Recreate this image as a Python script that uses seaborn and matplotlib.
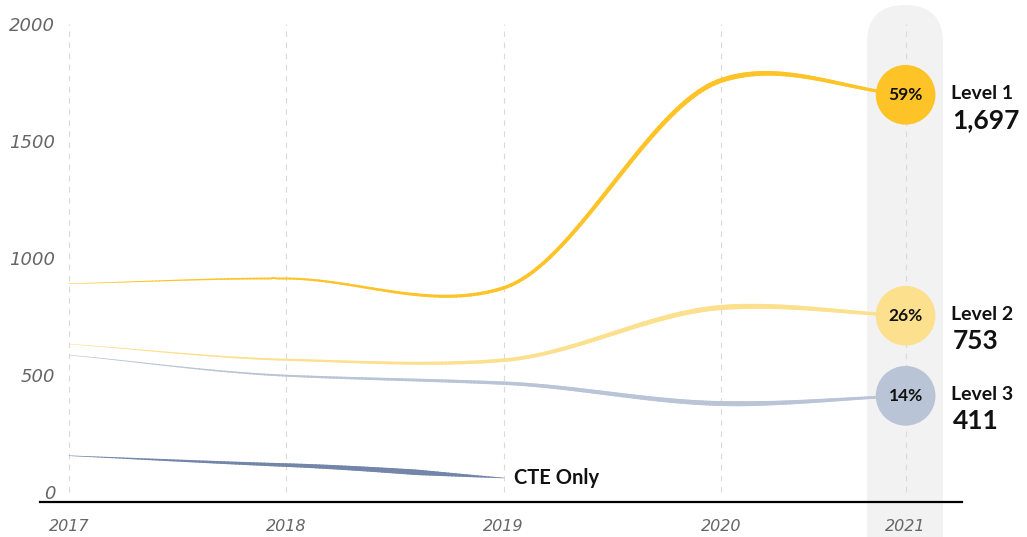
import numpy as np
import pandas as pd
import matplotlib
matplotlib.use("Agg")
import matplotlib.pyplot as plt
import seaborn as sns
from matplotlib.collections import LineCollection
from matplotlib.patches import FancyBboxPatch
from matplotlib.transforms import IdentityTransform

# data
years = ["2017", "2018", "2019", "2020", "2021"]
level1 = [890, 912, 872, 1758, 1697]
level2 = [632, 565, 563, 788, 753]
level3 = [585, 497, 465, 378, 411]
cte_only = [155, 115, 60]
level_names = ["Level 1", "Level 2", "Level 3"]
level_totals = ["1,697", "753", "411"]
level_shares = ["59%", "26%", "14%"]

# layout: 2021 sits a bit closer to 2020 in the original
x_pos = np.array([0, 1, 2, 3, 3.85])

c_l1 = "#FEC326"
c_l2 = "#FCE08E"
c_l3 = "#B9C4D6"
c_cte = "#7385A9"


def cardinal(xs, ys, tension=0.7, n=60):
    xs = np.asarray(xs, float)
    ys = np.asarray(ys, float)
    m = np.zeros_like(ys)
    m[0] = (ys[1] - ys[0]) / (xs[1] - xs[0])
    m[-1] = (ys[-1] - ys[-2]) / (xs[-1] - xs[-2])
    for i in range(1, len(ys) - 1):
        m[i] = tension * (ys[i + 1] - ys[i - 1]) / (xs[i + 1] - xs[i - 1])
    px, py = [], []
    for i in range(len(ys) - 1):
        h = xs[i + 1] - xs[i]
        t = np.linspace(0, 1, n, endpoint=(i == len(ys) - 2))
        h00 = 2 * t**3 - 3 * t**2 + 1
        h10 = t**3 - 2 * t**2 + t
        h01 = -2 * t**3 + 3 * t**2
        h11 = t**3 - t**2
        px.append(xs[i] + t * h)
        py.append(h00 * ys[i] + h10 * h * m[i] + h01 * ys[i + 1] + h11 * h * m[i + 1])
    return np.concatenate(px), np.concatenate(py)


def tapered(ax, xs, ys, color, w_max, w_end, peak=0.8):
    sx, sy = cardinal(xs, ys)
    t = (sx - sx[0]) / (sx[-1] - sx[0])
    w = np.where(t < peak,
                 0.5 + (w_max - 0.5) * t / peak,
                 w_max + (w_end - w_max) * (t - peak) / (1 - peak))
    pts = np.column_stack([sx, sy]).reshape(-1, 1, 2)
    segs = np.concatenate([pts[:-1], pts[1:]], axis=1)
    lc = LineCollection(segs, colors=color, linewidths=0.72 * (w[:-1] + w[1:]) / 2,
                        capstyle="round", zorder=3)
    ax.add_collection(lc)


sns.set_theme(style="white")
plt.rcParams["font.family"] = ["Lato", "DejaVu Sans"]

fig = plt.figure(figsize=(10.27, 5.37), dpi=100)
ax = fig.add_axes([40 / 1027, 35 / 537, 922 / 1027, 502 / 537])
ax.set_xlim(-0.1335, 4.1095)
ax.set_ylim(-42.7, 2102)

# grey band behind 2021
band = FancyBboxPatch((867, -60), 76, 592, boxstyle="round,pad=0,rounding_size=38",
                      transform=IdentityTransform(), facecolor="#F2F2F2",
                      edgecolor="none", zorder=0, clip_on=False)
ax.add_patch(band)

ax.vlines(x_pos, 0, 2000, colors="#DADADA", linestyles=(0, (5, 5)), lw=0.8, zorder=1)

tapered(ax, x_pos, level1, c_l1, 5.0, 2.8)
tapered(ax, x_pos, level2, c_l2, 5.2, 2.8)
tapered(ax, x_pos, level3, c_l3, 5.0, 2.2)
tapered(ax, x_pos[:3], cte_only, c_cte, 5.5, 0.6, peak=0.8)

ends = pd.DataFrame({
    "x": [x_pos[-1]] * 3,
    "y": [level1[-1], level2[-1], level3[-1]],
    "level": level_names,
})
sns.scatterplot(data=ends, x="x", y="y", hue="level", s=1850,
                palette=[c_l1, c_l2, c_l3], edgecolor="none", legend=False,
                ax=ax, zorder=5)

for (_, r), share, total in zip(ends.iterrows(), level_shares, level_totals):
    ax.text(r["x"], r["y"], share, ha="center", va="center", fontsize=12.5,
            fontweight="bold", color="#111111", zorder=6)
    ax.annotate(r["level"], (r["x"], r["y"]), xytext=(45, 1), textcoords="offset pixels",
                ha="left", va="center", fontsize=14, fontweight="bold", color="#111111")
    ax.annotate(total, (r["x"], r["y"]), xytext=(47, -25), textcoords="offset pixels",
                ha="left", va="center", fontsize=19, fontweight="bold", color="#111111")

ax.annotate("CTE Only", (x_pos[2], cte_only[-1]), xytext=(10, 0), textcoords="offset pixels",
            ha="left", va="center", fontsize=14.5, fontweight="bold", color="#111111")

ax.set_yticks([0, 500, 1000, 1500, 2000])
ax.set_yticklabels(["0", "500", "1000", "1500", "2000"],
                   family=["DejaVu Sans"], fontstyle="italic", fontsize=13, color="#666666")
ax.set_xticks(x_pos)
ax.set_xticklabels(years, family=["DejaVu Sans"],
                   fontstyle="italic", fontsize=11.5, color="#666666")
ax.tick_params(axis="y", length=0, pad=-11)
ax.tick_params(axis="x", length=0, pad=12)

for s in ["top", "right", "left"]:
    ax.spines[s].set_visible(False)
ax.spines["bottom"].set_color("black")
ax.spines["bottom"].set_linewidth(1.6)
ax.set_xlabel("")
ax.set_ylabel("")
ax.patch.set_alpha(0)

fig.savefig("out.png", dpi=100)
